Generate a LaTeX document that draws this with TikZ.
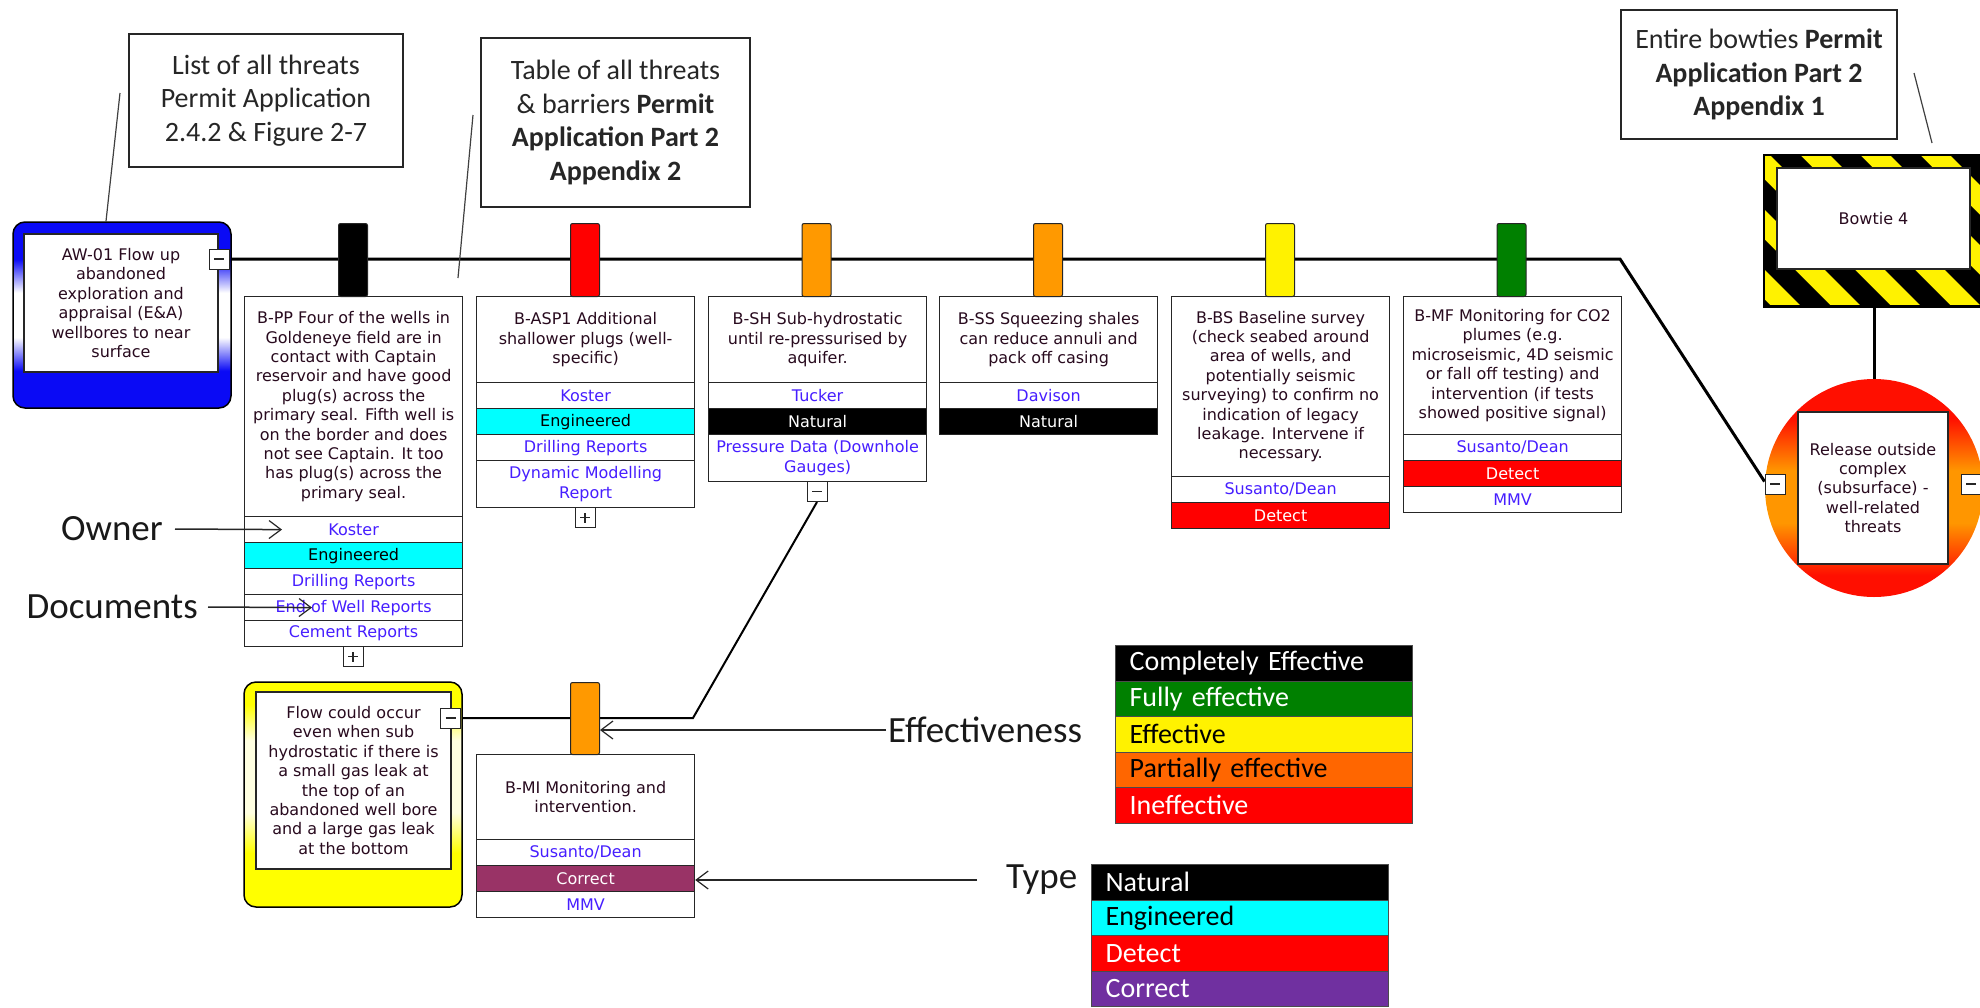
\documentclass[tikz,border=0pt]{standalone}
\usepackage{fontspec}
\usetikzlibrary{arrows.meta,backgrounds,calc}
\newfontfamily\bwfont{DejaVu Sans}
\newfontfamily\calfont{Carlito}
\definecolor{desctext}{RGB}{40,10,30}
\definecolor{ownblue}{RGB}{70,30,255}
\definecolor{engcyan}{RGB}{0,255,255}
\definecolor{barorange}{RGB}{255,153,0}
\definecolor{bargreen}{RGB}{0,128,0}
\definecolor{legorange}{RGB}{255,102,0}
\definecolor{legpurple}{RGB}{112,48,160}
\definecolor{corrmaroon}{RGB}{153,51,102}
\definecolor{awblue}{RGB}{10,10,245}
\definecolor{flowyellow}{RGB}{255,255,0}
\definecolor{lightyellow}{RGB}{255,255,225}
\definecolor{relred}{RGB}{255,15,0}
\definecolor{relorange}{RGB}{255,150,0}
\pgfdeclareverticalshading{awshade}{100bp}{color(0bp)=(awblue); color(35bp)=(awblue); color(44bp)=(white); color(56bp)=(white); color(65bp)=(awblue); color(100bp)=(awblue)}
\pgfdeclareverticalshading{flowshade}{100bp}{color(0bp)=(flowyellow); color(37bp)=(flowyellow); color(46bp)=(lightyellow); color(62bp)=(lightyellow); color(70bp)=(flowyellow); color(100bp)=(flowyellow)}
\pgfdeclareverticalshading{relshade}{100bp}{color(0bp)=(relred); color(30bp)=(relred); color(42bp)=(relorange); color(54bp)=(relorange); color(66bp)=(relred); color(100bp)=(relred)}
\begin{document}
\begin{tikzpicture}[x=1pt,y=-1pt,
 ann/.style={draw=black!85, line width=1.2pt, fill=white, align=center, inner sep=0pt, text=black!85, font=\calfont\fontsize{28}{33.5}\selectfont},
 box/.style={draw=black!85, line width=1.2pt, fill=white, inner sep=0pt, align=center, text=desctext, font=\bwfont\fontsize{16}{19.4}\selectfont},
 desc/.style={box, anchor=north west, minimum width=218pt},
 own/.style={desc, minimum height=26pt, text=ownblue},
 natural/.style={desc, minimum height=26pt, fill=black, text=white},
 engineered/.style={desc, minimum height=26pt, fill=engcyan, text=black},
 detect/.style={desc, minimum height=26pt, fill=red, text=white},
 correct/.style={desc, minimum height=26pt, fill=corrmaroon, text=white},
 barrier/.style={draw=black!85, line width=1pt, rounded corners=2pt, minimum width=29pt, minimum height=73pt, anchor=north, inner sep=0pt},
 togglebox/.style={draw=black!85, fill=white, line width=1pt, minimum width=20pt, minimum height=20pt, inner sep=0pt},
 minusbox/.style={togglebox, path picture={\draw[line width=1.2pt] ([xshift=-5pt]path picture bounding box.center) -- ([xshift=5pt]path picture bounding box.center);}},
 plusbox/.style={togglebox, path picture={\draw[line width=1.2pt] ([xshift=-5pt]path picture bounding box.center) -- ([xshift=5pt]path picture bounding box.center) ([yshift=-5pt]path picture bounding box.center) -- ([yshift=5pt]path picture bounding box.center);}},
 bigtxt/.style={font=\calfont\fontsize{37}{44}\selectfont, inner sep=2pt, text=black!90},
 legrow/.style={anchor=north west, draw=black!70, line width=1.2pt, minimum height=35.5pt, text width=269pt, inner xsep=14pt, inner ysep=0pt, align=left, font=\calfont\fontsize{28}{33}\selectfont},
 mainline/.style={line width=3pt, black},
 leader/.style={line width=1.2pt, black!75},
 pointer/.style={line width=1.5pt, black!85, -{Straight Barb[length=12pt,width=18pt,line width=1.2pt]}},
]
\useasboundingbox (0,0) rectangle (1980,1007);

% annotation boxes
\node[ann, minimum width=274pt, minimum height=133pt] (listann) at (266,100.5) {List of all threats\\Permit Application\\2.4.2 \& Figure 2-7};
\node[ann, minimum width=269pt, minimum height=169pt] (tabann) at (615.5,122.5) {Table of all threats\\\& barriers \textbf{Permit}\\\textbf{Application Part 2}\\\textbf{Appendix 2}};
\node[ann, minimum width=276pt, minimum height=129pt] (bowann) at (1759,74.5) {Entire bowties \textbf{Permit}\\\textbf{Application Part 2}\\\textbf{Appendix 1}};

% threat AW-01
\node[draw=black, line width=1.5pt, rounded corners=12pt, shade, shading=awshade, minimum width=218pt, minimum height=186pt, inner sep=0pt] (aw) at (122,315) {};
\node[box, minimum width=194pt, minimum height=138pt] (awin) at (121,303) {AW-01 Flow up\\abandoned\\exploration and\\appraisal (E\&A)\\wellbores to near\\surface};
\node[minusbox] (awm) at (219,259) {};

% barrier B-PP
\node[desc, minimum height=220pt] (ppd) at (244,296) {B-PP Four of the wells in\\Goldeneye field are in\\contact with Captain\\reservoir and have good\\plug(s) across the\\primary seal. Fifth well is\\on the border and does\\not see Captain. It too\\has plug(s) across the\\primary seal.};
\node[own] (ppo) at (244,516) {Koster};
\node[engineered] (ppt) at (244,542) {Engineered};
\node[own] (ppd1) at (244,568) {Drilling Reports};
\node[own] (ppd2) at (244,594) {End of Well Reports};
\node[own] (ppd3) at (244,620) {Cement Reports};
\node[plusbox, anchor=north] (ppplus) at (353,646) {};

% barrier B-ASP1
\node[desc, minimum height=86pt] (aspd) at (476,296) {B-ASP1 Additional\\shallower plugs (well-\\specific)};
\node[own] (aspo) at (476,382) {Koster};
\node[engineered] (aspt) at (476,408) {Engineered};
\node[own] (aspd1) at (476,434) {Drilling Reports};
\node[own, minimum height=47pt] (aspd2) at (476,460) {Dynamic Modelling\\Report};
\node[plusbox, anchor=north] (aspplus) at (585,507) {};

% barrier B-SH
\node[desc, minimum height=86pt] (shd) at (708,296) {B-SH Sub-hydrostatic\\until re-pressurised by\\aquifer.};
\node[own] (sho) at (708,382) {Tucker};
\node[natural] (sht) at (708,408) {Natural};
\node[own, minimum height=47pt] (shd1) at (708,434) {Pressure Data (Downhole\\Gauges)};
\node[minusbox, anchor=north] (shm) at (817,481) {};

% barrier B-SS
\node[desc, minimum height=86pt] (ssd) at (939,296) {B-SS Squeezing shales\\can reduce annuli and\\pack off casing};
\node[own] (sso) at (939,382) {Davison};
\node[natural] (sst) at (939,408) {Natural};

% barrier B-BS
\node[desc, minimum height=180pt] (bsd) at (1171,296) {B-BS Baseline survey\\(check seabed around\\area of wells, and\\potentially seismic\\surveying) to confirm no\\indication of legacy\\leakage. Intervene if\\necessary.};
\node[own] (bso) at (1171,476) {Susanto/Dean};
\node[detect] (bst) at (1171,502) {Detect};

% barrier B-MF
\node[desc, minimum height=138pt] (mfd) at (1403,296) {B-MF Monitoring for CO2\\plumes (e.g.\\microseismic, 4D seismic\\or fall off testing) and\\intervention (if tests\\showed positive signal)};
\node[own] (mfo) at (1403,434) {Susanto/Dean};
\node[detect] (mft) at (1403,460) {Detect};
\node[own] (mfd1) at (1403,486) {MMV};

% barrier B-MI
\node[desc, minimum height=85pt] (mid) at (476,754) {B-MI Monitoring and\\intervention.};
\node[own] (mio) at (476,839) {Susanto/Dean};
\node[correct] (mit) at (476,865) {Correct};
\node[own] (mid1) at (476,891) {MMV};

% effectiveness markers
\node[barrier, fill=black] (b1) at (353,223) {};
\node[barrier, fill=red] (b2) at (585,223) {};
\node[barrier, fill=barorange] (b3) at (816.5,223) {};
\node[barrier, fill=barorange] (b4) at (1048,223) {};
\node[barrier, fill=yellow] (b5) at (1280,223) {};
\node[barrier, fill=bargreen] (b6) at (1511.5,223) {};
\node[barrier, fill=barorange, minimum height=72pt] (b7) at (585,682) {};

% escalation factor
\node[draw=black, line width=1.5pt, rounded corners=12pt, shade, shading=flowshade, minimum width=218pt, minimum height=225pt, inner sep=0pt] (flow) at (353,794.5) {};
\node[box, minimum width=195pt, minimum height=177pt] (flowin) at (353.5,780.5) {Flow could occur\\even when sub\\hydrostatic if there is\\a small gas leak at\\the top of an\\abandoned well bore\\and a large gas leak\\at the bottom};
\node[minusbox] (flowm) at (450.5,718) {};

% hazard
\node[draw=black, line width=1.5pt, fill=yellow, minimum width=220pt, minimum height=151pt, inner sep=0pt] (bow) at (1874,230.5) {};
\begin{scope}
\clip (bow.north west) rectangle (bow.south east);
\foreach \s in {1590,1650,...,2010} \fill[black] (\s,155) -- ++(30,0) -- ++(151,151) -- ++(-30,0) -- cycle;
\end{scope}
\draw[line width=1.5pt] (bow.north west) rectangle (bow.south east);
\node[box, minimum width=193pt, minimum height=101pt] (bowin) at (1873.5,218.5) {Bowtie 4};

% top event
\node[circle, shade, shading=relshade, minimum size=218pt, inner sep=0pt] (rel) at (1874,488) {};
\node[box, minimum width=150pt, minimum height=152pt] (relbox) at (1873,488) {Release outside\\complex\\(subsurface) -\\well-related\\threats};
\node[minusbox] (relm) at (1775,484) {};
\node[minusbox] (relm2) at (1971,484) {};

% labels
\node[bigtxt, anchor=east] (ownertxt) at (165,529) {Owner};
\node[bigtxt, anchor=east] (doctxt) at (200,607) {Documents};
\node[bigtxt, anchor=west] (efftxt) at (886,730) {Effectiveness};
\node[bigtxt, anchor=west] (typetxt) at (1004,880) {Type};

% legends
\node[legrow, fill=black, text=white] (le1) at (1115,645) {Completely Effective};
\node[legrow, fill=bargreen, text=white] (le2) at (1115,680.5) {Fully effective};
\node[legrow, fill=yellow, text=black] (le3) at (1115,716) {Effective};
\node[legrow, fill=legorange, text=black] (le4) at (1115,751.5) {Partially effective};
\node[legrow, fill=red, text=white] (le5) at (1115,787) {Ineffective};

\node[legrow, fill=black, text=white] (lt1) at (1091,864) {Natural};
\node[legrow, fill=engcyan, text=black] (lt2) at (1091,899.5) {Engineered};
\node[legrow, fill=red, text=white] (lt3) at (1091,935) {Detect};
\node[legrow, fill=legpurple, text=white] (lt4) at (1091,970.5) {Correct};

% free ends
\coordinate (bend) at (1620,259);
\coordinate (fbend) at (693,718);
\coordinate (l1a) at (120,93);
\coordinate (l2a) at (473,115);
\coordinate (l2b) at (458,278);
\coordinate (l3a) at (1914,73);
\coordinate (l3b) at (1932,143);

\begin{pgfonlayer}{background}
\draw[mainline] (awm.east) -- (bend) -- ([yshift=-8pt]relm.north west);
\draw[mainline] (bow.south) -- (rel.north);
\draw[line width=2pt] (flowm.east) -- (fbend) -- (shm.south);
\draw[pointer] (efftxt.west) -- (efftxt.west -| b7.east);
\draw[leader] (l1a) -- ([xshift=-16pt]aw.north);
\draw[leader] (l2a) -- (l2b);
\draw[leader] (l3a) -- (l3b);
\end{pgfonlayer}

\draw[pointer] ([xshift=10pt]ownertxt.east) -- ([xshift=38pt]ppo.west);
\draw[pointer] ([xshift=8pt]doctxt.east) -- ([xshift=68pt]ppd2.west);
\draw[pointer] ([xshift=-27pt]typetxt.west) -- (typetxt.west -| mit.east);
\end{tikzpicture}
\end{document}
